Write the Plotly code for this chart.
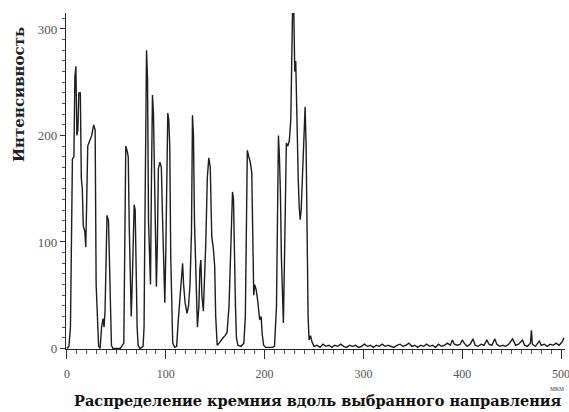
import plotly.graph_objects as go

# Position along the chosen direction (µm) and intensity
position_um = [
    0, 2, 3.5, 4.5, 5.5, 7, 8, 9, 10, 11, 12, 13.5, 14.5, 15.5, 16.5, 18, 19, 20, 21, 23, 25, 27, 28.5, 29.5, 31, 32,
    33.5, 35, 36.5, 37.5, 38.5, 39.5, 40.5, 42, 43, 44, 45, 46.5, 50, 54, 57.5, 58.5, 59.5, 61, 62, 63, 64, 65, 66,
    67, 68, 69, 70, 71, 72, 74, 77, 78, 78.5, 79.5, 80.5, 81.5, 82.5, 83.5, 84.5, 85.5, 86.5, 87.5, 88.5, 89.5,
    90.5, 91.5, 92.5, 94, 95.5, 96.5, 98, 99, 100, 101, 102, 103, 104, 105, 106, 107, 109, 111, 112.5, 114, 115.5,
    117, 118, 119.5, 121.5, 123, 124.5, 126, 127, 128, 129, 130.5, 132, 133.5, 134.5, 135.5, 136.5, 138, 139,
    140.5, 142, 143.5, 145, 146.5, 148, 149.5, 150.5, 152, 154, 156, 158, 160, 162, 164, 166, 167.5, 168.5,
    169.5, 170.5, 171.5, 173, 176, 179, 180.5, 181.5, 182.5, 184, 185.5, 187, 188, 189, 190, 191.5, 193, 195,
    196.5, 197.5, 199, 201, 205, 208, 210, 212, 213, 214, 215, 216, 217, 218, 219, 220, 221, 222, 223.5, 225,
    226.5, 227.5, 228.5, 229.5, 230.5, 231.5, 232.5, 234, 235, 236, 237, 238, 239, 240, 241, 242, 243, 244, 245,
    246.5, 248,
    250, 253, 256, 259, 262, 265, 268, 271, 274, 277, 280, 283, 286, 289, 292, 295, 298, 301, 304, 307, 310, 313,
    316, 319, 322, 325, 328, 331, 334, 337, 340, 343, 346, 349, 352, 355, 358, 361, 364, 367, 370, 373, 376, 379,
    382, 385, 388, 390, 392, 395, 398, 400, 402, 405, 408, 411, 413, 416, 419, 422, 425, 427, 430, 433, 435, 438,
    441, 444, 447, 451, 454, 457, 461, 463, 466, 469, 470, 471, 474, 478, 480, 483, 486, 489, 492, 495, 498, 501,
    503,
]
intensity = [
    0, 2, 20, 80, 178, 180, 255, 265, 200, 205, 240, 240, 160, 150, 115, 110, 95, 140, 190, 195, 200, 210, 205, 60,
    30, 2,
    0, 20, 28, 20, 35, 80, 125, 120, 80, 30, 3, 0, 0, 0, 5, 90, 190, 185, 180, 115, 58, 30, 60,
    100, 135, 130, 70, 20, 3, 0, 2, 20, 81, 198, 280, 254, 120, 90, 60, 160, 238, 221, 163, 100,
    58, 100, 169, 175, 170, 130, 60, 43, 90, 180, 221, 215, 190, 86, 40, 5, 1, 2, 25, 43, 70,
    80, 60, 43, 33, 40, 60, 110, 219, 200, 120, 70, 20, 40, 75, 83, 50, 35, 60,
    100, 160, 179, 170, 105, 95, 77, 30, 3, 5, 8, 10, 12, 15, 40, 100, 147, 140,
    80, 40, 10, 3, 2, 5, 30, 120, 186, 180, 175, 165, 90, 50, 60, 55, 45, 27,
    30, 14, 3, 1, 1, 1, 2, 39, 120, 200, 180, 146, 85, 50, 24, 77, 120, 193, 190, 195,
    215, 265, 330, 320, 260, 270, 215, 160, 133, 121, 130, 160, 183, 210, 227, 190, 89, 30, 8,
    12, 6,
    2, 3, 1, 4, 2, 3, 1, 3, 2, 4, 2, 1, 3, 2, 3, 1, 2, 4, 2, 3, 1, 3,
    2, 4, 2, 3, 2, 1, 3, 4, 2, 3, 5, 2, 3, 1, 3, 2, 4, 2, 3, 1, 4, 2,
    3, 5, 3, 8, 4, 3, 4, 8, 5, 2, 4, 9, 3, 2, 4, 3, 8, 4, 3, 9, 4, 2,
    3, 2, 4, 9, 3, 4, 8, 3, 2, 5, 17, 4, 2, 7, 3, 4, 2, 4, 3, 5, 3, 6,
    10,
]

x_tick_vals = [0, 100, 200, 300, 400, 500]
y_tick_vals = [0, 100, 200, 300]

fig = go.Figure()
fig.add_trace(go.Scatter(
    x=position_um, y=intensity, mode="lines",
    line=dict(color="#1e1e1e", width=1.4),
    showlegend=False, hoverinfo="skip",
))

serif = "Liberation Serif, Times New Roman, serif"

fig.update_layout(
    width=569, height=412,
    margin=dict(l=66, r=4, t=13, b=63),
    paper_bgcolor="white", plot_bgcolor="white",
    xaxis=dict(
        range=[-1, 504], showgrid=False, zeroline=False, automargin=False,
        showline=True, linecolor="#222", linewidth=1.4,
        tickmode="array", tickvals=x_tick_vals,
        ticks="outside", ticklen=9, tickwidth=1, tickcolor="#333",
        ticklabelstandoff=4, ticklabeloverflow="allow",
        tickfont=dict(family=serif, size=12, color="#555"),
        minor=dict(dtick=10, ticks="outside", ticklen=4, tickcolor="#555", tickwidth=1),
    ),
    yaxis=dict(
        range=[-0.5, 315], showgrid=False, zeroline=False, automargin=False,
        showline=True, linecolor="#222", linewidth=1.4,
        tickmode="array", tickvals=y_tick_vals,
        ticks="outside", ticklen=5, tickwidth=1, tickcolor="#333",
        tickfont=dict(family=serif, size=13, color="#555"),
        minor=dict(dtick=10, ticks="outside", ticklen=3, tickcolor="#555", tickwidth=1),
    ),
    annotations=[
        dict(text="<b>Распределение кремния вдоль выбранного направления</b>",
             x=0.505, y=-0.152, xref="paper", yref="paper", showarrow=False,
             xanchor="center", yanchor="middle",
             font=dict(family="DejaVu Serif, serif", size=14.5, color="#111")),
        dict(text="<b>Интенсивность</b>",
             x=-0.094, y=0.756, xref="paper", yref="paper", showarrow=False,
             textangle=-90, xanchor="center", yanchor="middle",
             font=dict(family="DejaVu Serif, serif", size=15, color="#222")),
        dict(text="мкм",
             x=0.984, y=-0.119, xref="paper", yref="paper", showarrow=False,
             xanchor="center", yanchor="middle",
             font=dict(family=serif, size=8, color="#555")),
    ],
)

fig.write_html("out.html", config={"displayModeBar": False},
               post_script="document.body.style.margin='0px';")
